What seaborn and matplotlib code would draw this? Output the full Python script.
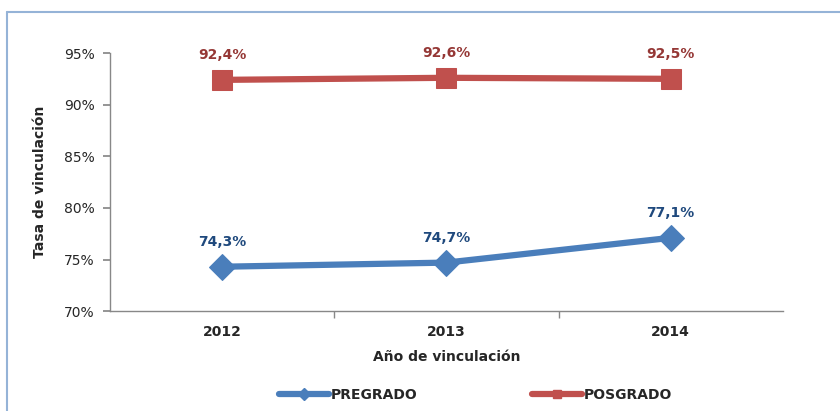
import matplotlib
matplotlib.use("Agg")
import matplotlib.pyplot as plt
import seaborn as sns
import pandas as pd
from matplotlib.lines import Line2D

years = ["2012", "2013", "2014"]
pregrado = [74.3, 74.7, 77.1]
posgrado = [92.4, 92.6, 92.5]
series_names = ["PREGRADO", "POSGRADO"]
yticks = [70, 75, 80, 85, 90, 95]

sns.set_theme(style="white")
plt.rcParams['font.family'] = ['DejaVu Sans']

df = pd.DataFrame({
    "year": years * 2,
    "x": list(range(len(years))) * 2,
    "value": pregrado + posgrado,
    "serie": [series_names[0]] * 3 + [series_names[1]] * 3,
})

line_colors = {"PREGRADO": "#4A7EBB", "POSGRADO": "#C0504D"}
label_colors = {"PREGRADO": "#1F497D", "POSGRADO": "#953735"}
markers = {"PREGRADO": "D", "POSGRADO": "s"}
msizes = {"PREGRADO": 13, "POSGRADO": 14}

fig = plt.figure(figsize=(8.4, 4.11), dpi=100)
ax = fig.add_axes([0.131, 0.243, 0.801, 0.628])

for s in series_names:
    sub = df[df.serie == s]
    sns.lineplot(data=sub, x="x", y="value", ax=ax, color=line_colors[s],
                 linewidth=4.5, marker=markers[s], markersize=msizes[s],
                 markeredgecolor=line_colors[s], legend=False)
    for _, r in sub.iterrows():
        ax.annotate(f"{r.value:.1f}%".replace(".", ","), (r.x, r.value),
                    xytext=(0, 13), textcoords="offset points", ha="center",
                    va="bottom", color=label_colors[s], fontsize=10,
                    fontweight="bold")

ax.set_xlim(-0.5, 2.5)
ax.set_ylim(70, 95)
ax.set_yticks(yticks)
ax.set_yticklabels([f"{v}%" for v in yticks], fontsize=10)
ax.set_xticks(range(len(years)))
ax.set_xticklabels(years, fontsize=10, fontweight="bold")
ax.set_xticks([0.5, 1.5], minor=True)
ax.tick_params(axis="x", which="major", length=0, pad=10)
ax.tick_params(axis="x", which="minor", length=5, direction="out", color="#888888", bottom=True)
ax.tick_params(axis="y", length=5, direction="out", color="#888888", left=True, pad=6)
for sp in ["top", "right"]:
    ax.spines[sp].set_visible(False)
for sp in ["left", "bottom"]:
    ax.spines[sp].set_color("#888888")
    ax.spines[sp].set_linewidth(1)

ax.set_xlabel("Año de vinculación", fontsize=10, fontweight="bold", labelpad=8)
ax.set_ylabel("Tasa de vinculación", fontsize=10, fontweight="bold", labelpad=12)

handles = [Line2D([0], [0], color=line_colors[s], lw=4.5, marker=markers[s],
                  markersize=6, markeredgecolor=line_colors[s]) for s in series_names]
leg = fig.legend(handles, series_names, loc="center", bbox_to_anchor=(0.566, 0.04),
                 ncol=2, frameon=False, handlelength=3.6, handletextpad=0.15,
                 columnspacing=8.2, prop={"weight": "bold", "size": 10})

# outer frame (left and top)
fig.add_artist(Line2D([7/840, 7/840], [0, 1 - 12/411], transform=fig.transFigure,
                      color="#95B3D7", lw=1.5))
fig.add_artist(Line2D([7/840, 1], [1 - 12/411, 1 - 12/411], transform=fig.transFigure,
                      color="#95B3D7", lw=1.5))

fig.savefig("out.png", dpi=100)
